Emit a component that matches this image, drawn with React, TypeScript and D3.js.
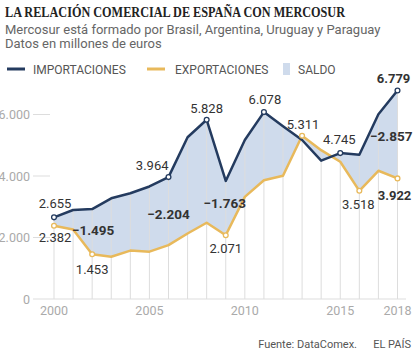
import React from "react";
import * as d3 from "d3";

// datos en millones de euros
const years = [2000, 2001, 2002, 2003, 2004, 2005, 2006, 2007, 2008, 2009, 2010, 2011, 2012, 2013, 2014, 2015, 2016, 2017, 2018];
const imports = [2655, 2895, 2925, 3275, 3440, 3660, 3964, 5260, 5828, 3840, 5170, 6078, 5620, 5170, 4500, 4745, 4690, 6010, 6779];
const exports = [2382, 2260, 1453, 1376, 1575, 1540, 1750, 2130, 2480, 2071, 3320, 3860, 4010, 5311, 4840, 4465, 3518, 4170, 3922];
const yTicks = [0, 2000, 4000, 6000];
const xTicks = [2000, 2005, 2010, 2015, 2018];

// etiquetas sobre los puntos: año, serie, texto
const pointLabels = [
  { year: 2000, serie: "imp", text: "2.655", dx: 1, dy: -9, anchor: "middle", bold: false },
  { year: 2006, serie: "imp", text: "3.964", dx: 0, dy: -7, anchor: "end", bold: false },
  { year: 2008, serie: "imp", text: "5.828", dx: 0, dy: -7, anchor: "middle", bold: false },
  { year: 2011, serie: "imp", text: "6.078", dx: 1, dy: -8, anchor: "middle", bold: false },
  { year: 2015, serie: "imp", text: "4.745", dx: -1, dy: -9, anchor: "middle", bold: false },
  { year: 2018, serie: "imp", text: "6.779", dx: -4, dy: -8, anchor: "middle", bold: true },
  { year: 2000, serie: "exp", text: "2.382", dx: 1, dy: 16, anchor: "middle", bold: false },
  { year: 2002, serie: "exp", text: "1.453", dx: 0, dy: 20, anchor: "middle", bold: false },
  { year: 2009, serie: "exp", text: "2.071", dx: 0, dy: 18, anchor: "middle", bold: false },
  { year: 2013, serie: "exp", text: "5.311", dx: 1, dy: -7, anchor: "middle", bold: false },
  { year: 2016, serie: "exp", text: "3.518", dx: -1, dy: 18, anchor: "middle", bold: false },
  { year: 2018, serie: "exp", text: "3.922", dx: -3, dy: 22, anchor: "middle", bold: true },
];

// saldo (exportaciones - importaciones)
const saldoLabels = [
  { year: 2002, text: "−1.495", dx: 1, dy: -1, anchor: "middle" },
  { year: 2006, text: "−2.204", dx: 0, dy: 4, anchor: "middle" },
  { year: 2009, text: "−1.763", dx: -1, dy: -4, anchor: "middle" },
  { year: 2018, text: "−2.857", dx: 15, dy: 3, anchor: "end" },
];

const IMP = "#243b5f";
const EXP = "#e8b95b";
const AREA = "#cfdbec";
const SANS = "Roboto, 'Open Sans', sans-serif";

export default function App() {
  const W = 414;
  const H = 360;

  const x = d3.scaleLinear().domain([2000, 2018]).range([54, 397.5]);
  const y = d3.scaleLinear().domain([0, 6000]).range([299, 114.5]);

  const rows = years.map((yr, i) => ({ yr, imp: imports[i], exp: exports[i] }));

  const area = d3
    .area<any>()
    .x((d) => x(d.yr))
    .y0((d) => y(d.exp))
    .y1((d) => y(d.imp));
  const lineImp = d3.line<any>().x((d) => x(d.yr)).y((d) => y(d.imp));
  const lineExp = d3.line<any>().x((d) => x(d.yr)).y((d) => y(d.exp));

  const val = (yr: number, s: string) => {
    const i = years.indexOf(yr);
    return s === "imp" ? imports[i] : exports[i];
  };

  return (
    <svg width={W} height={H} style={{ position: "absolute", left: 0, top: 0, background: "#fff" }}>
      <text x={5} y={17} fontFamily="'Liberation Serif', serif" fontWeight="bold" fontSize={14.5}
        fill="#222" textLength={340} lengthAdjust="spacingAndGlyphs">
        LA RELACIÓN COMERCIAL DE ESPAÑA CON MERCOSUR
      </text>
      <text x={5} y={34} fontFamily={SANS} fontSize={13} fill="#666">
        Mercosur está formado por Brasil, Argentina, Uruguay y Paraguay
      </text>
      <text x={5} y={48} fontFamily={SANS} fontSize={13} fill="#666">
        Datos en millones de euros
      </text>

      {/* leyenda */}
      <g fontFamily={SANS} fontSize={12} fill="#555">
        <line x1={7} x2={25} y1={69} y2={69} stroke={IMP} strokeWidth={3} />
        <text x={33} y={73.5}>IMPORTACIONES</text>
        <line x1={147} x2={165} y1={69} y2={69} stroke={EXP} strokeWidth={3} />
        <text x={175} y={73.5}>EXPORTACIONES</text>
        <rect x={283} y={63} width={7} height={12} fill={AREA} />
        <text x={298} y={73.5}>SALDO</text>
      </g>

      {/* eje y */}
      <g fontFamily={SANS} fontSize={12.5} fill="#aaa">
        {yTicks.map((t) => (
          <g key={t}>
            <text x={30} y={y(t) + 4.5} textAnchor="end">{d3.format(",")(t).replace(",", ".")}</text>
            {t > 0 && <line x1={33} x2={50} y1={y(t)} y2={y(t)} stroke="#ddd" strokeWidth={1} />}
          </g>
        ))}
      </g>

      {/* saldo */}
      <path d={area(rows) || ""} fill={AREA} />

      {/* verticales */}
      {rows.map((d) => (
        <line key={d.yr} x1={x(d.yr)} x2={x(d.yr)} y1={y(0)} y2={y(Math.max(d.imp, d.exp))}
          stroke="#ddd" strokeWidth={1} />
      ))}
      <line x1={33} x2={406} y1={y(0)} y2={y(0)} stroke="#ddd" strokeWidth={1.2} />

      <path d={lineExp(rows) || ""} fill="none" stroke={EXP} strokeWidth={2.5} strokeLinejoin="round" />
      <path d={lineImp(rows) || ""} fill="none" stroke={IMP} strokeWidth={2.5} strokeLinejoin="round" />

      {pointLabels.map((p, i) => (
        <circle key={"c" + i} cx={x(p.year)} cy={y(val(p.year, p.serie))} r={2.4}
          fill="#fff" stroke={p.serie === "imp" ? IMP : EXP} strokeWidth={1.3} />
      ))}

      <g fontFamily={SANS} fontSize={13} fill="#333">
        {pointLabels.map((p, i) => (
          <text key={"t" + i} x={x(p.year) + p.dx} y={y(val(p.year, p.serie)) + p.dy}
            textAnchor={p.anchor as any} fontWeight={p.bold ? "bold" : "normal"}>
            {p.text}
          </text>
        ))}
        {saldoLabels.map((s, i) => {
          const mid = (y(val(s.year, "imp")) + y(val(s.year, "exp"))) / 2;
          return (
            <text key={"s" + i} x={x(s.year) + s.dx} y={mid + s.dy + 4} textAnchor={s.anchor as any}
              fontWeight="bold" fontSize={13.5}>
              {s.text}
            </text>
          );
        })}
      </g>

      {/* eje x */}
      <g fontFamily={SANS} fontSize={12.5} fill="#aaa">
        {xTicks.map((t) => (
          <text key={t} x={x(t)} y={315} textAnchor="middle">{t}</text>
        ))}
      </g>

      <g fontFamily={SANS} fontSize={11} fill="#555">
        <text x={357} y={348} textAnchor="end">Fuente: DataComex.</text>
        <text x={411} y={348} textAnchor="end">EL PAÍS</text>
      </g>
    </svg>
  );
}
